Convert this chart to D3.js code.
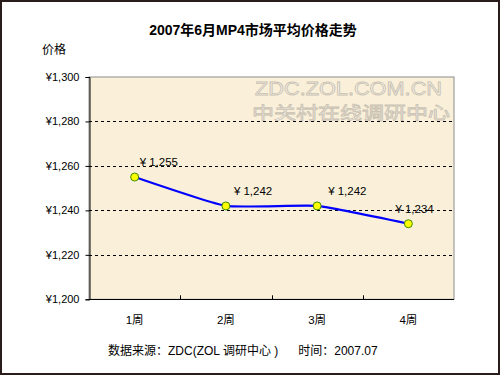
<!DOCTYPE html>
<html><head><meta charset="utf-8">
<script src="https://cdn.jsdelivr.net/npm/d3@7"></script>
<style>body{margin:0;background:#fff}svg{display:block}</style>
</head><body>
<svg id="c" width="500" height="375"></svg>
<script>
const categories = ["1周", "2周", "3周", "4周"];
const values = [1255, 1242, 1242, 1234];
const valueLabels = ["¥ 1,255", "¥ 1,242", "¥ 1,242", "¥ 1,234"];
const yTicks = [1200, 1220, 1240, 1260, 1280, 1300];
const title = "2007年6月MP4市场平均价格走势";
const yTitle = "价格";
const footer = "数据来源：ZDC(ZOL 调研中心 )      时间：2007.07";

const svg = d3.select("#c");
const font = "Arial, 'Liberation Sans', 'Noto Sans CJK SC', sans-serif";
const m = {l: 89, r: 454, t: 77, b: 299.3};

svg.append("rect").attr("x",1).attr("y",1).attr("width",498).attr("height",373)
  .attr("fill","#fff").attr("stroke","#2b1c1c").attr("stroke-width",2);

const x = d3.scaleBand().domain(categories).range([m.l, m.r]).padding(0);
const y = d3.scaleLinear().domain([1200, 1300]).range([m.b, m.t]);

// plot background
svg.append("rect").attr("x",m.l).attr("y",m.t).attr("width",m.r-m.l).attr("height",m.b-m.t)
  .attr("fill","#faf0d9").attr("stroke","#8c8c8c").attr("stroke-width",1);

// watermark
const wm = svg.append("g").attr("font-family","Arial, 'Liberation Sans', sans-serif")
  .attr("fill","#fbf7ee").attr("stroke","#c9c1b2").attr("stroke-width",0.8);
wm.append("text").attr("x",255).attr("y",95).attr("font-size",18).attr("textLength",187)
  .attr("lengthAdjust","spacingAndGlyphs").text("ZDC.ZOL.COM.CN");
wm.append("text").attr("x",252).attr("y",119).attr("font-size",17).attr("textLength",198)
  .attr("font-family","'Noto Sans CJK SC', sans-serif")
  .attr("lengthAdjust","spacingAndGlyphs").text("中关村在线调研中心");

// grid
svg.append("g").selectAll("line").data(yTicks.filter(d => d>1200 && d<1300)).join("line")
  .attr("x1",m.l).attr("x2",m.r).attr("y1",d=>Math.round(y(d))+0.5).attr("y2",d=>Math.round(y(d))+0.5)
  .attr("stroke","#000").attr("stroke-dasharray","3,3").attr("stroke-width",1);

// y axis
const ya = svg.append("g").attr("transform",`translate(${m.l+0.5},0)`)
  .call(d3.axisLeft(y).tickValues(yTicks).tickSize(4).tickPadding(6)
    .tickFormat(d => "¥" + d3.format(",")(d)));
ya.select(".domain").attr("stroke","#000");
ya.selectAll(".tick line").attr("stroke","#000");
ya.selectAll("text").attr("font-family",font).attr("font-size",11).attr("fill","#000");

// x axis
const xa = svg.append("g").attr("transform",`translate(0,${Math.round(m.b)+0.5})`)
  .call(d3.axisBottom(x).tickSize(0).tickPadding(16));
xa.select(".domain").attr("stroke","#000").attr("d",`M${m.l},0H${m.r}`);
xa.selectAll("text").attr("font-family",font).attr("font-size",11.5).attr("fill","#000");
svg.append("g").selectAll("line").data(categories.slice(1)).join("line")
  .attr("x1",d=>Math.round(x(d))+0.5).attr("x2",d=>Math.round(x(d))+0.5)
  .attr("y1",m.b).attr("y2",m.b-4).attr("stroke","#000");

// line
const cx = d => x(d) + x.bandwidth()/2;
const pts = categories.map((c,i) => [cx(c), y(values[i])]);
svg.append("path").datum(pts).attr("d", d3.line().curve(d3.curveCardinal.tension(0.6)))
  .attr("fill","none").attr("stroke","#0000ff").attr("stroke-width",2.2);
svg.append("g").selectAll("circle").data(pts).join("circle")
  .attr("cx",d=>d[0]).attr("cy",d=>d[1]).attr("r",4)
  .attr("fill","#ffff00").attr("stroke","#3c8c00").attr("stroke-width",1);

// data labels
const labelDx = [5, 8, 11, -13];
svg.append("g").selectAll("text").data(pts).join("text")
  .attr("x",(d,i)=>d[0]+labelDx[i]).attr("y",(d,i)=>d[1]-11)
  .attr("font-family",font).attr("font-size",11.5).attr("fill","#000")
  .text((d,i)=>valueLabels[i]);

// titles
svg.append("text").attr("x",253).attr("y",35).attr("text-anchor","middle")
  .attr("font-family",font).attr("font-weight","bold").attr("font-size",14).text(title);
svg.append("text").attr("x",42).attr("y",54).attr("font-family",font).attr("font-size",12).text(yTitle);
svg.append("text").attr("x",108).attr("y",355).attr("font-family",font).attr("font-size",12)
  .attr("xml:space","preserve").style("white-space","pre").text(footer);
</script>
</body></html>
